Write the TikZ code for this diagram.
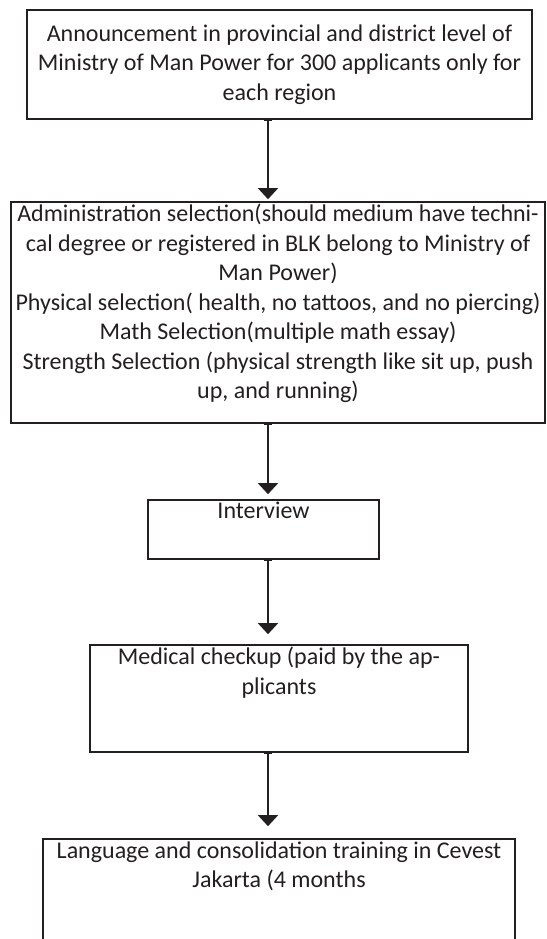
\documentclass[tikz,border=0pt]{standalone}
\usepackage{fontspec}
\setmainfont{Carlito}
\usetikzlibrary{arrows.meta, positioning}
\definecolor{ink}{HTML}{231F20}

\begin{document}
\begin{tikzpicture}[x=1pt, y=-1pt,
        every node/.style={font=\fontsize{24}{29.5}\selectfont, text=ink, align=center},
        box/.style={draw=ink, line width=1.6pt, inner sep=0pt},
        txt/.style={inner sep=0pt},
        flow/.style={draw=ink, line width=1.3pt, {Bar[width=8pt, line width=1.3pt]}-{Triangle[width=20pt, length=11pt]}}
    ]
        \useasboundingbox (0,0) rectangle (546,939);
        \coordinate (axis) at (268,0);

        % the steps
        \node[box, minimum width=505pt, minimum height=109pt] (announce) at (279.5,64.5)
            {Announcement in provincial and district level of\\
             Ministry of Man Power for 300 applicants only for\\
             each region};
        \node[box, minimum width=534pt, minimum height=221pt] (select) at (278,312.5) {};
        \node[txt, below=3pt of select.north] (selecttxt)
            {Administration selection(should medium have techni-\\
             cal degree or registered in BLK belong to Ministry of\\
             Man Power)\\
             Physical selection( health, no tattoos, and no piercing)\\
             Math Selection(multiple math essay)\\
             Strength Selection (physical strength like sit up, push\\
             up, and running)};
        \node[box, minimum width=231pt, minimum height=59pt] (interview) at (263.5,529.5) {};
        \node[txt, below=3pt of interview.north] (interviewtxt) {Interview};
        \node[box, minimum width=378pt, minimum height=107pt] (medical) at (279,698.5) {};
        \node[txt, below=3pt of medical.north] (medicaltxt)
            {Medical checkup (paid by the ap-\\
             plicants};
        \node[box, minimum width=472pt, minimum height=160pt] (training) at (279,919) {};
        \node[txt, below=3pt of training.north] (trainingtxt)
            {Language and consolidation training in Cevest\\
             Jakarta (4 months};

        % arrows between the steps
        \draw[flow, shorten >=2pt] (announce.south -| axis) -- (select.north -| axis);
        \draw[flow, shorten >=5pt] (select.south -| axis) -- (interview.north -| axis);
        \draw[flow, shorten >=10pt] (interview.south -| axis) -- (medical.north -| axis);
        \draw[flow, shorten >=12pt] (medical.south -| axis) -- (training.north -| axis);
    \end{tikzpicture}
\end{document}
